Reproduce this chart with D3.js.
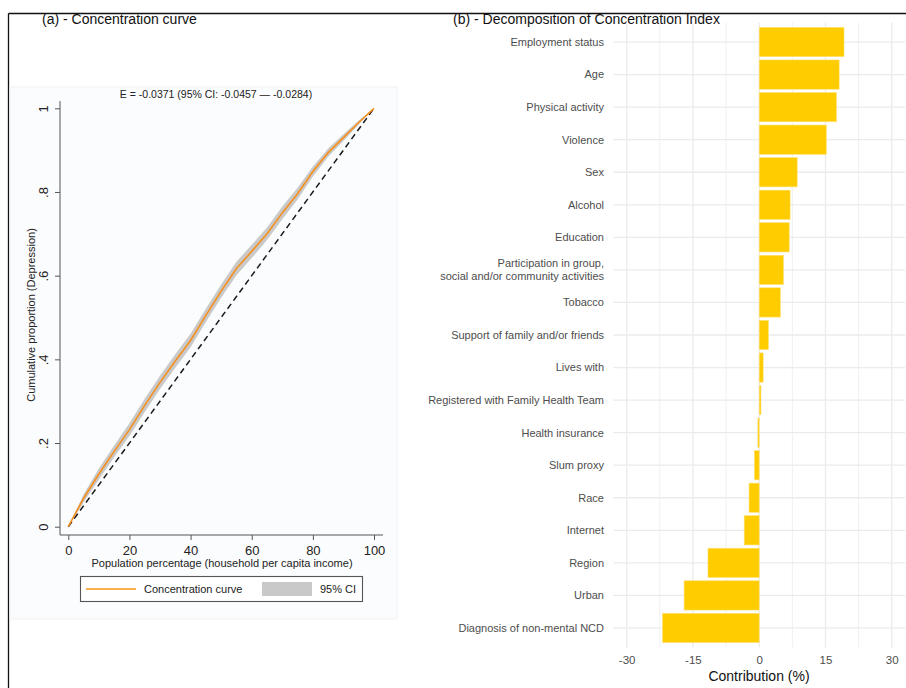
<!DOCTYPE html>
<html>
<head>
<meta charset="utf-8">
<script src="https://cdn.jsdelivr.net/npm/d3@7"></script>
<style>
  html, body { margin: 0; padding: 0; background: #fff; }
  svg { display: block; font-family: "Liberation Sans", Arial, sans-serif; }
</style>
</head>
<body>
<svg id="fig" width="906" height="688"></svg>
<script>
// ---- Panel (a): concentration curve ----
const popPct   = [0, 5, 10, 15, 20, 25, 30, 35, 40, 45, 50, 55, 60, 65, 70, 75, 80, 85, 90, 95, 100];
const cumShare = [0, 0.068, 0.126, 0.180, 0.232, 0.290, 0.345, 0.396, 0.445, 0.505, 0.563, 0.617, 0.658, 0.700, 0.750, 0.796, 0.849, 0.894, 0.930, 0.966, 1];
const ciLower  = [0, 0.058, 0.113, 0.166, 0.217, 0.274, 0.329, 0.380, 0.429, 0.489, 0.547, 0.601, 0.642, 0.685, 0.735, 0.782, 0.837, 0.884, 0.922, 0.961, 1];
const ciUpper  = [0, 0.077, 0.139, 0.194, 0.247, 0.306, 0.361, 0.412, 0.461, 0.521, 0.579, 0.633, 0.674, 0.715, 0.765, 0.810, 0.861, 0.904, 0.938, 0.971, 1];
const ccXTicks = [0, 20, 40, 60, 80, 100];
const ccYTicks = [0, 0.2, 0.4, 0.6, 0.8, 1];
const ccYTickLabels = ["0", ".2", ".4", ".6", ".8", "1"];
const ccNote = "E = -0.0371 (95% CI: -0.0457 \u2014 -0.0284)";

// ---- Panel (b): decomposition of the concentration index ----
const factors = [
  "Employment status", "Age", "Physical activity", "Violence", "Sex", "Alcohol", "Education",
  "Participation in group,\nsocial and/or community activities", "Tobacco",
  "Support of family and/or friends", "Lives with", "Registered with Family Health Team",
  "Health insurance", "Slum proxy", "Race", "Internet", "Region", "Urban",
  "Diagnosis of non-mental NCD"
];
const contribution = [19.2, 18.1, 17.5, 15.2, 8.6, 7.0, 6.8, 5.5, 4.8, 2.1, 0.9, 0.4,
                      -0.3, -1.1, -2.3, -3.4, -11.6, -17.0, -21.9];
const contribTicks = [-30, -15, 0, 15, 30];
const contribMinor = [-22.5, -7.5, 7.5, 22.5];

const svg = d3.select("#fig");
const plainInt = d => String(d);   // ASCII hyphen for negatives

// outer frame (top and left edges)
svg.append("line").attr("x1", 8.5).attr("x2", 906).attr("y1", 13.5).attr("y2", 13.5)
  .attr("stroke", "#111").attr("stroke-width", 1.3);
svg.append("line").attr("x1", 8.5).attr("x2", 8.5).attr("y1", 13.5).attr("y2", 688)
  .attr("stroke", "#111").attr("stroke-width", 1.3);

// ================= Panel (a) =================
svg.append("text").attr("x", 42).attr("y", 24).attr("font-size", 14).attr("fill", "#111")
  .text("(a) - Concentration curve");

// graph region background
svg.append("rect").attr("x", 10).attr("y", 87).attr("width", 387).attr("height", 532)
  .attr("fill", "#fbfcfd").attr("stroke", "#eef2f5").attr("stroke-width", 1);

const xCC = d3.scaleLinear().domain([0, 100]).range([68.3, 374]);
const yCC = d3.scaleLinear().domain([0, 1]).range([526.7, 108.3]);

const gA = svg.append("g");

// 95% CI band
const band = d3.area()
  .x((d, i) => xCC(popPct[i]))
  .y0((d, i) => yCC(ciLower[i]))
  .y1((d, i) => yCC(ciUpper[i]));
gA.append("path").datum(popPct).attr("d", band).attr("fill", "#c9c9c9");

// line of equality
gA.append("line")
  .attr("x1", xCC(0)).attr("y1", yCC(0)).attr("x2", xCC(100)).attr("y2", yCC(1))
  .attr("stroke", "#1a1a1a").attr("stroke-width", 1.5).attr("stroke-dasharray", "6,4");

// concentration curve
const ccLine = d3.line().x((d, i) => xCC(popPct[i])).y((d, i) => yCC(cumShare[i]));
gA.append("path").datum(popPct).attr("d", ccLine)
  .attr("fill", "none").attr("stroke", "#f5901e").attr("stroke-width", 1.6);

// axes
const axisColor = "#555";
const xAxisA = gA.append("g").attr("transform", "translate(0,535)")
  .call(d3.axisBottom(xCC).tickValues(ccXTicks).tickSize(5).tickFormat(plainInt));
xAxisA.select(".domain").attr("d", "M60,0H383").attr("stroke", axisColor);
xAxisA.selectAll(".tick line").attr("stroke", axisColor);
xAxisA.selectAll(".tick text").attr("font-size", 13).attr("fill", "#222")
  .attr("font-family", "Liberation Sans, Arial, sans-serif").attr("dy", "0.92em");

const yAxisA = gA.append("g").attr("transform", "translate(60,0)")
  .call(d3.axisLeft(yCC).tickValues(ccYTicks).tickSize(5)
    .tickFormat((d, i) => ccYTickLabels[i]));
yAxisA.select(".domain").attr("d", "M0,101V535").attr("stroke", axisColor);
yAxisA.selectAll(".tick line").attr("stroke", axisColor);
yAxisA.selectAll(".tick text")
  .attr("font-size", 13).attr("fill", "#222")
  .attr("font-family", "Liberation Sans, Arial, sans-serif")
  .attr("x", null).attr("dy", null)
  .attr("text-anchor", "middle")
  .attr("transform", "translate(-12,0) rotate(-90)")
  .attr("y", 0);

// axis titles
svg.append("text").attr("x", 222).attr("y", 567).attr("text-anchor", "middle")
  .attr("font-size", 11).attr("fill", "#222")
  .text("Population percentage (household per capita income)");
svg.append("text").attr("transform", "translate(35,315) rotate(-90)")
  .attr("text-anchor", "middle").attr("font-size", 11).attr("fill", "#222")
  .text("Cumulative proportion (Depression)");

// index annotation
svg.append("text").attr("x", 216).attr("y", 98).attr("text-anchor", "middle")
  .attr("font-size", 10.5).attr("fill", "#222").text(ccNote);

// legend
const lg = svg.append("g");
lg.append("rect").attr("x", 80.5).attr("y", 576.5).attr("width", 282).attr("height", 25)
  .attr("fill", "#fff").attr("stroke", "#555").attr("stroke-width", 1.1);
lg.append("line").attr("x1", 86).attr("x2", 136).attr("y1", 589).attr("y2", 589)
  .attr("stroke", "#fbb050").attr("stroke-width", 1.8);
lg.append("text").attr("x", 144).attr("y", 593).attr("font-size", 11).attr("fill", "#222")
  .text("Concentration curve");
lg.append("rect").attr("x", 262).attr("y", 582).attr("width", 50).attr("height", 14)
  .attr("fill", "#c9c9c9");
lg.append("text").attr("x", 320).attr("y", 593).attr("font-size", 11).attr("fill", "#222")
  .text("95% CI");

// ================= Panel (b) =================
svg.append("text").attr("x", 453).attr("y", 24).attr("font-size", 14).attr("fill", "#111")
  .text("(b) - Decomposition of Concentration Index");

const xB = d3.scaleLinear().domain([-33, 33]).range([613.4, 905]);
const yB = d3.scaleBand().domain(factors).range([22.5, 647.5])
  .paddingInner(0.1).paddingOuter(0.15);

const gB = svg.append("g");
const gridColor = "#ebebeb";

// grid
gB.selectAll(".vminor").data(contribMinor).join("line")
  .attr("x1", d => xB(d)).attr("x2", d => xB(d)).attr("y1", 22.5).attr("y2", 647.5)
  .attr("stroke", gridColor).attr("stroke-width", 0.8);
gB.selectAll(".vmajor").data(contribTicks).join("line")
  .attr("x1", d => xB(d)).attr("x2", d => xB(d)).attr("y1", 22.5).attr("y2", 647.5)
  .attr("stroke", gridColor).attr("stroke-width", 1.3);
gB.selectAll(".hgrid").data(factors).join("line")
  .attr("x1", 613.4).attr("x2", 905)
  .attr("y1", d => yB(d) + yB.bandwidth() / 2).attr("y2", d => yB(d) + yB.bandwidth() / 2)
  .attr("stroke", gridColor).attr("stroke-width", 1.3);

// bars
gB.selectAll(".bar").data(factors).join("rect")
  .attr("x", (d, i) => xB(Math.min(0, contribution[i])))
  .attr("width", (d, i) => Math.abs(xB(contribution[i]) - xB(0)))
  .attr("y", d => yB(d))
  .attr("height", yB.bandwidth())
  .attr("fill", "#ffcc00").attr("stroke", "#ffe27a").attr("stroke-width", 0.6);

// category labels
const lab = gB.selectAll(".lab").data(factors).join("text")
  .attr("text-anchor", "end").attr("font-size", 11).attr("fill", "#4d4d4d");
lab.each(function (d) {
  const lines = d.split("\n");
  const cy = yB(d) + yB.bandwidth() / 2;
  const t = d3.select(this);
  lines.forEach((ln, k) => {
    t.append("tspan").attr("x", 604)
      .attr("y", cy + (k - (lines.length - 1) / 2) * 12.5)
      .attr("dy", "0.35em").text(ln);
  });
});

// x axis
const xAxisB = gB.append("g").attr("transform", "translate(0,650)")
  .call(d3.axisBottom(xB).tickValues(contribTicks).tickSize(0).tickFormat(plainInt));
xAxisB.select(".domain").remove();
xAxisB.selectAll(".tick text").attr("font-size", 11.5).attr("fill", "#4d4d4d")
  .attr("font-family", "Liberation Sans, Arial, sans-serif").attr("dy", "0.95em");

svg.append("text").attr("x", 759).attr("y", 681).attr("text-anchor", "middle")
  .attr("font-size", 14).attr("fill", "#111").text("Contribution (%)");
</script>
</body>
</html>
